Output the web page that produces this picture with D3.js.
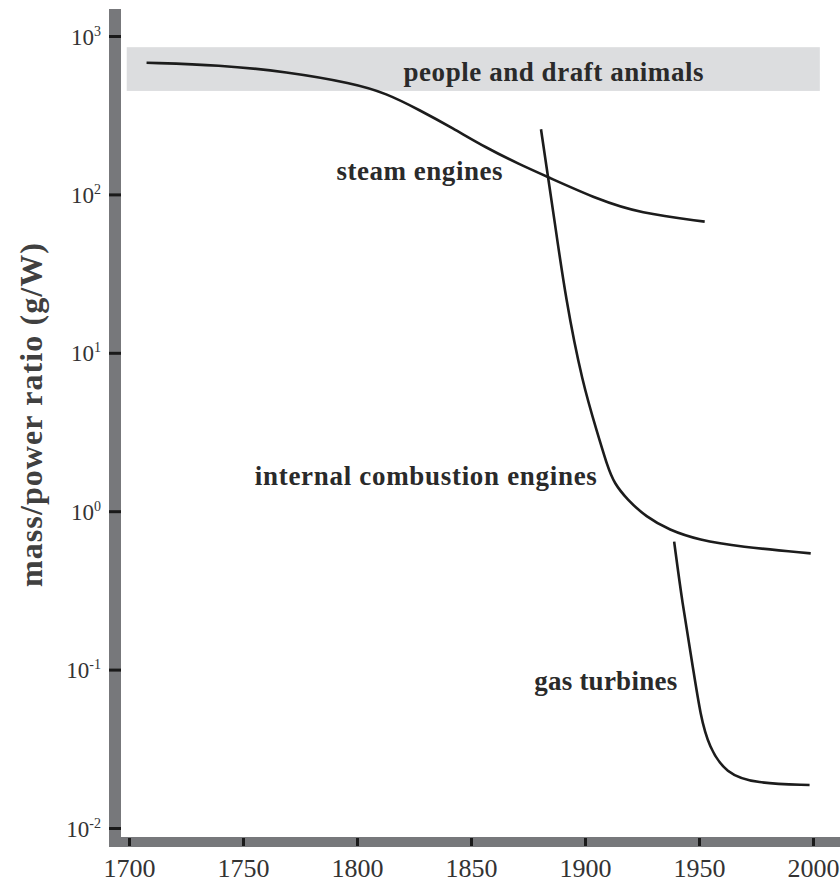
<!DOCTYPE html>
<html>
<head>
<meta charset="utf-8">
<script src="https://cdn.jsdelivr.net/npm/d3@7"></script>
<style>
  html, body { margin: 0; padding: 0; background: #fff; }
  svg { display: block; }
</style>
</head>
<body>
<svg id="chart" width="840" height="882"></svg>
<script>
// Mass/power ratio of prime movers, 1700–2000 (log scale, g/W)
const xTickYears = [1700, 1750, 1800, 1850, 1900, 1950, 2000];
const yTickValues = [1e-2, 1e-1, 1e0, 1e1, 1e2, 1e3];
const yTickExponents = ["-2", "-1", "0", "1", "2", "3"];

const steamYears  = [1707.7, 1739.8, 1769.0, 1798.2, 1812.8, 1827.4, 1842.0, 1856.6, 1871.2, 1883.6, 1906.2, 1923.7, 1952.5];
const steamValues = [678, 656, 595, 503, 435, 341, 262, 197, 155, 129, 92.2, 76.3, 67.3];

const iceYears  = [1880.7, 1883.9, 1886.4, 1891.6, 1898.9, 1905.5, 1909.9, 1912.8, 1918.6, 1926.7, 1936.9, 1950.0, 1967.6, 1999.0];
const iceValues = [258, 125, 72.3, 21.5, 6.42, 3.10, 1.91, 1.50, 1.18, 0.923, 0.761, 0.658, 0.597, 0.542];

const gasYears  = [1939.1, 1942.7, 1947.1, 1950.7, 1954.4, 1961.7, 1974.8, 1998.5];
const gasValues = [0.642, 0.262, 0.109, 0.0504, 0.0326, 0.0221, 0.0191, 0.0187];

// Range of people and draft animals (band)
const bandYears  = [1699, 2003];
const bandValues = [450, 850];

const labels = [
  { text: "people and draft animals",    year: 1820.4, value: 520,  width: 300 },
  { text: "steam engines",               year: 1791.0, value: 124,  width: 166 },
  { text: "internal combustion engines", year: 1755.2, value: 1.46, width: 342 },
  { text: "gas turbines",                year: 1877.7, value: 0.0739, width: 143 }
];

const svg = d3.select("#chart");
const serif = "'Liberation Serif', 'Times New Roman', serif";

const x = d3.scaleLinear().domain([1700, 2000]).range([129, 813]);
const y = d3.scaleLog().domain([1e-2, 1e3]).range([828, 36]);

// band
svg.append("rect")
  .attr("x", x(bandYears[0]))
  .attr("y", y(bandValues[1]))
  .attr("width", x(bandYears[1]) - x(bandYears[0]))
  .attr("height", y(bandValues[0]) - y(bandValues[1]))
  .attr("fill", "#dcdddf");

// axis bars
const axisGray = "#77787b";
svg.append("rect").attr("x", 109).attr("y", 9).attr("width", 12).attr("height", 838).attr("fill", axisGray);
svg.append("rect").attr("x", 109).attr("y", 837).attr("width", 731).attr("height", 10).attr("fill", axisGray);

// y axis ticks
const yAxis = d3.axisLeft(y).tickValues(yTickValues).tickSize(12).tickFormat("");
const gy = svg.append("g").attr("transform", "translate(121,0)").call(yAxis);
gy.select(".domain").remove();
gy.selectAll(".tick line").attr("stroke", "#1a1a1a").attr("stroke-width", 3);

// y tick labels with superscript exponent
const yl = svg.append("g");
yTickValues.forEach((v, i) => {
  const t = yl.append("text")
    .attr("x", 101)
    .attr("y", y(v) + 8.5)
    .attr("text-anchor", "end")
    .attr("font-family", serif)
    .attr("font-size", 23)
    .attr("fill", "#333");
  t.append("tspan").text("10");
  t.append("tspan").attr("dy", -9).attr("font-size", 14).text(yTickExponents[i]);
});

// x axis ticks and labels
const xAxis = d3.axisBottom(x).tickValues(xTickYears).tickSizeInner(-8).tickSizeOuter(0)
  .tickPadding(13).tickFormat(d3.format("d"));
const gx = svg.append("g").attr("transform", "translate(0,846)").call(xAxis);
gx.select(".domain").remove();
gx.selectAll(".tick line").attr("stroke", "#1a1a1a").attr("stroke-width", 3);
gx.selectAll(".tick text")
  .attr("font-family", serif)
  .attr("font-size", 26)
  .attr("fill", "#333");

// y axis title
svg.append("text")
  .attr("transform", "translate(42,415) rotate(-90)")
  .attr("text-anchor", "middle")
  .attr("font-family", serif)
  .attr("font-weight", "bold")
  .attr("font-size", 32)
  .attr("fill", "#404040")
  .attr("textLength", 344)
  .attr("lengthAdjust", "spacing")
  .text("mass/power ratio (g/W)");

// curves (smoothed B-spline through the readings)
const line = d3.line()
  .x(d => x(d[0]))
  .y(d => y(d[1]))
  .curve(d3.curveBasis);

const series = [
  d3.zip(steamYears, steamValues),
  d3.zip(iceYears, iceValues),
  d3.zip(gasYears, gasValues)
];

svg.append("g").selectAll("path")
  .data(series)
  .join("path")
  .attr("d", line)
  .attr("fill", "none")
  .attr("stroke", "#1c1c1c")
  .attr("stroke-width", 2.6)
  .attr("stroke-linecap", "butt");

// curve labels
svg.append("g").selectAll("text")
  .data(labels)
  .join("text")
  .attr("x", d => x(d.year))
  .attr("y", d => y(d.value))
  .attr("font-family", serif)
  .attr("font-weight", "bold")
  .attr("font-size", 27)
  .attr("fill", "#2a2a2a")
  .attr("textLength", d => d.width)
  .attr("lengthAdjust", "spacing")
  .text(d => d.text);
</script>
</body>
</html>
